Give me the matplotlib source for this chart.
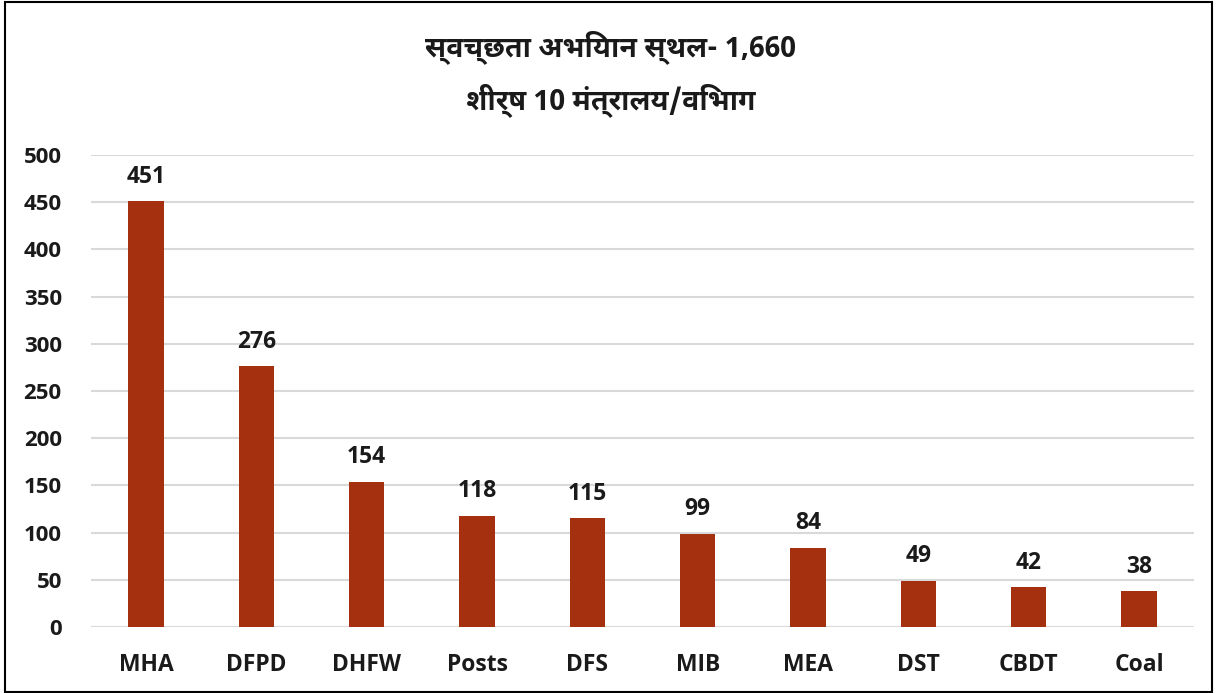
import matplotlib
matplotlib.use('Agg')
import matplotlib.pyplot as plt
from matplotlib import font_manager
from matplotlib.ft2font import FT2Font
from matplotlib.patches import Rectangle

# Данные
ministries = ['MHA', 'DFPD', 'DHFW', 'Posts', 'DFS', 'MIB', 'MEA', 'DST', 'CBDT', 'Coal']
sites = [451, 276, 154, 118, 115, 99, 84, 49, 42, 38]
y_ticks = [0, 50, 100, 150, 200, 250, 300, 350, 400, 450, 500]
title_line1 = 'स्वच्छता अभियान स्थल- 1,660'
title_line2 = 'शीर्ष 10 मंत्रालय/विभाग'

bar_color = '#A5300F'

# ищем шрифт с деванагари: лучше жирный, без засечек, не моноширинный
cands = []
for f in font_manager.fontManager.ttflist:
    try:
        if 0x0938 in FT2Font(f.fname).get_charmap():
            score = 0
            if 'mono' in f.name.lower():
                score -= 10
            if 'sans' in f.name.lower():
                score += 3
            w = f.weight if isinstance(f.weight, int) else 400
            if w >= 600:
                score += 2
            cands.append((score, f.name))
    except Exception:
        pass
cands.sort(reverse=True)
title_fonts = ([cands[0][1]] if cands else []) + ['Liberation Sans', 'DejaVu Sans']

plt.rcParams['font.family'] = ['Open Sans', 'DejaVu Sans']

fig = plt.figure(figsize=(12.16, 6.93), dpi=100)
ax = fig.add_axes([0.0748, 0.0952, 0.9072, 0.6811])

x = range(len(ministries))
ax.bar(x, sites, width=0.32, color=bar_color, zorder=3)
for i, v in enumerate(sites):
    ax.text(i, v + 13, str(v), ha='center', va='bottom', fontsize=16.5, fontweight='bold', color='#1a1a1a')

ax.set_xlim(-0.5, len(ministries) - 0.5)
ax.set_ylim(0, 500)
ax.set_yticks(y_ticks)
ax.set_yticklabels([str(t) for t in y_ticks], fontsize=16, fontweight='bold', color='#1a1a1a')
ax.set_xticks(list(x))
ax.set_xticklabels(ministries, fontsize=16.5, fontweight='bold', color='#1a1a1a')
ax.tick_params(axis='both', length=0)
ax.tick_params(axis='x', pad=19)
ax.tick_params(axis='y', pad=21)
ax.grid(axis='y', color='#D9D9D9', linewidth=1.5, zorder=0)
for s in ax.spines.values():
    s.set_visible(False)

fig.text(0.502, 0.932, title_line1, ha='center', va='center', fontsize=20.5, fontweight='bold',
         family=title_fonts, color='#1a1a1a')
fig.text(0.502, 0.856, title_line2, ha='center', va='center', fontsize=20.5, fontweight='bold',
         family=title_fonts, color='#1a1a1a')

fig.patches.append(Rectangle((0.004, 0.002), 0.993, 0.995, transform=fig.transFigure,
                             fill=False, edgecolor='black', linewidth=1.5))

fig.savefig('out.png', dpi=100)
